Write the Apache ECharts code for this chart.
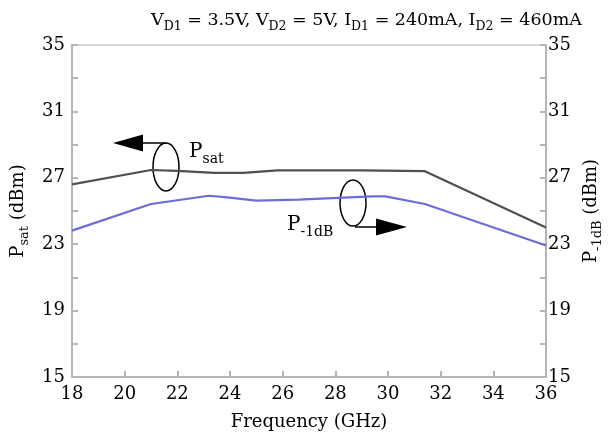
<!DOCTYPE html>
<html>
<head>
<meta charset="utf-8">
<script src="https://cdn.jsdelivr.net/npm/echarts@6/dist/echarts.min.js"></script>
<style>
html, body { margin: 0; padding: 0; background: #fff; }
#main { width: 612px; height: 436px; }
</style>
</head>
<body>
<div id="main"></div>
<script type="text/javascript">
// Psat 曲线 (左轴)
var psatFreq = [18, 21, 22, 23.4, 24.5, 25.8, 27, 29, 31.4, 36];
var psatVal = [26.6, 27.47, 27.42, 27.3, 27.3, 27.45, 27.45, 27.45, 27.4, 24.0];
// P-1dB 曲线 (右轴)
var p1Freq = [18, 21, 23.2, 23.9, 25, 26.6, 29.4, 29.9, 31.4, 36];
var p1Val = [23.82, 25.42, 25.92, 25.82, 25.62, 25.68, 25.88, 25.88, 25.42, 22.92];
// 坐标轴
var xMin = 18, xMax = 36, xStep = 2;
var yMin = 15, yMax = 35, yStep = 4;

var FONT = 'DejaVu Serif';
var axisGray = '#b5b5b5';

function pairs(xs, ys) {
	var out = [];
	for (var i = 0; i < xs.length; i++) out.push([xs[i], ys[i]]);
	return out;
}

// 下标用 rich 文本
function subRich(size, subSize) {
	return {
		n: { fontFamily: FONT, fontSize: size, fontWeight: 'normal', lineHeight: size + 8, color: '#000' },
		s: { fontFamily: FONT, fontSize: subSize, fontWeight: 'normal', lineHeight: subSize, verticalAlign: 'bottom', color: '#000' }
	};
}

function yAxisCfg(pos, name, gap) {
	return {
		type: 'value',
		position: pos,
		min: yMin, max: yMax, interval: yStep,
		name: name,
		nameLocation: 'middle',
		nameRotate: 90,
		nameGap: gap,
		nameTextStyle: { rich: subRich(18, 13) },
		axisLine: { show: true, lineStyle: { color: axisGray, width: 2 } },
		axisTick: { show: true, inside: true, length: 6, lineStyle: { color: axisGray, width: 2 } },
		minorTick: { show: true, splitNumber: 2, length: 6, lineStyle: { color: axisGray, width: 2 } },
		splitLine: { show: false },
		axisLabel: { fontFamily: FONT, fontSize: 18, color: '#000', margin: pos == 'left' ? 7 : 2 }
	};
}

var chart = echarts.init(document.getElementById('main'));
chart.setOption({
	animation: false,
	backgroundColor: '#fff',
	title: {
		text: '{n|V}{s|D1}{n| = 3.5V, V}{s|D2}{n| = 5V, I}{s|D1}{n| = 240mA, I}{s|D2}{n| = 460mA}',
		left: 146,
		top: 3,
		textStyle: { fontWeight: 'normal', rich: subRich(17.5, 12.5) }
	},
	grid: {
		left: 72, right: 60, top: 45, bottom: 57,
		show: true, borderColor: '#d6d6d6', borderWidth: 2
	},
	xAxis: {
		type: 'value',
		min: xMin, max: xMax, interval: xStep,
		name: 'Frequency (GHz)',
		nameLocation: 'middle',
		nameGap: 36,
		nameTextStyle: { fontFamily: FONT, fontSize: 18, color: '#000' },
		axisLine: { show: true, lineStyle: { color: axisGray, width: 2 } },
		axisTick: { show: true, inside: true, length: 6, lineStyle: { color: axisGray, width: 2 } },
		splitLine: { show: false },
		axisLabel: { fontFamily: FONT, fontSize: 18, color: '#000', margin: 8 }
	},
	yAxis: [
		yAxisCfg('left', '{n|P}{s|sat}{n| (dBm)}', 27),
		yAxisCfg('right', '{n|P}{s|-1dB}{n| (dBm)}', 32)
	],
	series: [
		{
			name: 'Psat', type: 'line', yAxisIndex: 0, symbol: 'none',
			data: pairs(psatFreq, psatVal),
			lineStyle: { color: '#505050', width: 2.2 }
		},
		{
			name: 'P-1dB', type: 'line', yAxisIndex: 1, symbol: 'none',
			data: pairs(p1Freq, p1Val),
			lineStyle: { color: '#6c6cd8', width: 2.2 }
		}
	],
	graphic: [
		// Psat 标注
		{ type: 'ellipse', shape: { cx: 166, cy: 167, rx: 13, ry: 24 }, style: { fill: null, stroke: '#000', lineWidth: 1.5 } },
		{ type: 'line', shape: { x1: 166, y1: 143, x2: 140, y2: 143 }, style: { stroke: '#000', lineWidth: 1.5 } },
		{ type: 'polygon', shape: { points: [[113, 143], [143, 134.5], [143, 151.5]] }, style: { fill: '#000' } },
		{ type: 'text', left: 189, top: 142, style: { text: '{n|P}{s|sat}', rich: subRich(20, 14) } },
		// P-1dB 标注
		{ type: 'ellipse', shape: { cx: 353, cy: 203, rx: 13, ry: 23 }, style: { fill: null, stroke: '#000', lineWidth: 1.5 } },
		{ type: 'line', shape: { x1: 355, y1: 227, x2: 378, y2: 227 }, style: { stroke: '#000', lineWidth: 1.5 } },
		{ type: 'polygon', shape: { points: [[407, 227], [376, 218.5], [376, 235.5]] }, style: { fill: '#000' } },
		{ type: 'text', left: 287, top: 215, style: { text: '{n|P}{s|-1dB}', rich: subRich(20, 14) } }
	]
});
</script>
</body>
</html>
